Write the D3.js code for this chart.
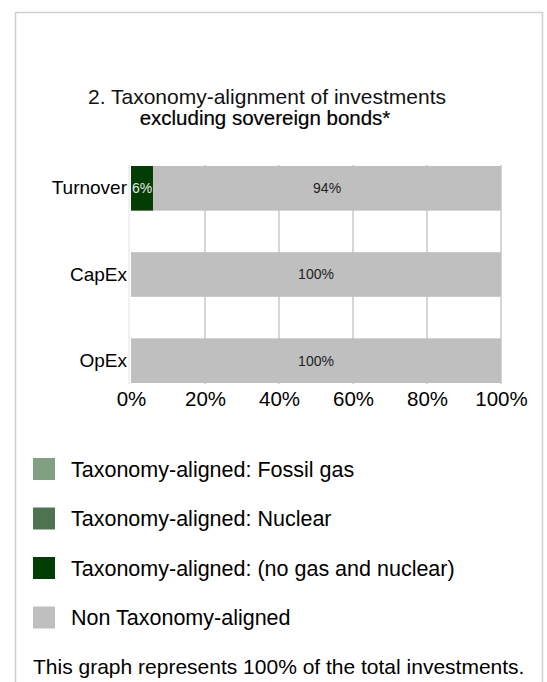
<!DOCTYPE html>
<html>
<head>
<meta charset="utf-8">
<script src="https://cdn.jsdelivr.net/npm/d3@7"></script>
<style>
  html, body { margin: 0; padding: 0; background: #fff; }
  svg { display: block; font-family: "Liberation Sans", Arial, sans-serif; }
</style>
</head>
<body>
<svg id="chart" width="547" height="682"></svg>
<script>
// Rows of the stacked bar chart, top to bottom
const categories = ["Turnover", "CapEx", "OpEx"];

// Share (%) of each category per series
const fossilGas   = [0, 0, 0];
const nuclear     = [0, 0, 0];
const alignedOnly = [6, 0, 0];
const nonAligned  = [94, 100, 100];

const seriesNames = [
  "Taxonomy-aligned: Fossil gas",
  "Taxonomy-aligned: Nuclear",
  "Taxonomy-aligned: (no gas and nuclear)",
  "Non Taxonomy-aligned"
];
const seriesColors = ["#819f81", "#4e7350", "#023d03", "#bfbfbf"];
const labelColors  = ["#f0f0f0", "#f0f0f0", "#e8e8e8", "#222222"];

const tickValues = [0, 20, 40, 60, 80, 100];

const titleLines = [
  "2. Taxonomy-alignment of investments",
  "excluding sovereign bonds*"
];
const footnote = "This graph represents 100% of the total investments.";

const svg = d3.select("#chart");

// Panel frame
svg.append("path")
  .attr("d", "M15.5,682 V12.5 H542.5 V682")
  .attr("fill", "none")
  .attr("stroke", "#cfcfcf")
  .attr("stroke-width", 1.5);

// Title
svg.append("text")
  .attr("x", 267).attr("y", 104)
  .attr("text-anchor", "middle")
  .attr("font-size", 21)
  .attr("fill", "#111")
  .text(titleLines[0]);
svg.append("text")
  .attr("x", 265).attr("y", 125)
  .attr("text-anchor", "middle")
  .attr("font-size", 20.5)
  .attr("fill", "#000")
  .attr("stroke", "#000").attr("stroke-width", 0.2)
  .text(titleLines[1]);

// Plot scales
const x = d3.scaleLinear().domain([0, 100]).range([131, 501]);
const y = d3.scaleBand().domain(categories).range([166, 383]).paddingInner(0.482).paddingOuter(0);

// Stack the series
const rows = categories.map((c, i) => ({
  cat: c, s0: fossilGas[i], s1: nuclear[i], s2: alignedOnly[i], s3: nonAligned[i]
}));
const stacked = d3.stack().keys(["s0", "s1", "s2", "s3"])(rows);

// Vertical gridlines
const plotTop = y.range()[0], plotBottom = y.range()[1];
svg.append("g")
  .selectAll("line")
  .data(tickValues)
  .join("line")
  .attr("x1", d => x(d) + (d === 0 ? -2 : 0))
  .attr("x2", d => x(d) + (d === 0 ? -2 : 0))
  .attr("y1", plotTop - 1)
  .attr("y2", plotBottom + 1)
  .attr("stroke", d => d === 0 ? "#ececec" : "#c8c8c8")
  .attr("stroke-width", 1.5);

// Bars
const layers = svg.append("g")
  .selectAll("g")
  .data(stacked)
  .join("g")
  .attr("fill", (d, i) => seriesColors[i]);

layers.selectAll("rect")
  .data(d => d.filter(p => p[1] - p[0] > 0))
  .join("rect")
  .attr("x", p => x(p[0]))
  .attr("y", p => y(p.data.cat))
  .attr("width", p => x(p[1]) - x(p[0]))
  .attr("height", y.bandwidth());

// Value labels inside segments
stacked.forEach((layer, li) => {
  svg.append("g")
    .selectAll("text")
    .data(layer.filter(p => p[1] - p[0] > 0))
    .join("text")
    .attr("x", p => (x(p[0]) + x(p[1])) / 2)
    .attr("y", p => y(p.data.cat) + y.bandwidth() / 2)
    .attr("dy", "0.35em")
    .attr("text-anchor", "middle")
    .attr("font-size", 14)
    .attr("fill", labelColors[li])
    .text(p => d3.format(".0f")(p[1] - p[0]) + "%");
});

// Category axis (labels only)
const yAxis = svg.append("g")
  .attr("transform", `translate(${x(0) - 4},0)`)
  .call(d3.axisLeft(y).tickSize(0).tickPadding(0));
yAxis.select(".domain").remove();
yAxis.selectAll("text")
  .attr("font-size", 19)
  .attr("fill", "#000")
  .attr("font-family", "Liberation Sans, Arial, sans-serif");

// Percentage axis
const xAxis = svg.append("g")
  .attr("transform", `translate(0,${plotBottom})`)
  .call(d3.axisBottom(x).tickValues(tickValues).tickFormat(d => d + "%").tickSize(0).tickPadding(8));
xAxis.select(".domain").remove();
xAxis.selectAll("text")
  .attr("font-size", 20.5)
  .attr("fill", "#000")
  .attr("font-family", "Liberation Sans, Arial, sans-serif");

// Legend
const legend = svg.append("g")
  .selectAll("g")
  .data(seriesNames)
  .join("g")
  .attr("transform", (d, i) => `translate(33,${469 + i * 49.5})`);
legend.append("rect")
  .attr("x", 0).attr("y", -11)
  .attr("width", 22).attr("height", 22)
  .attr("fill", (d, i) => seriesColors[i]);
legend.append("text")
  .attr("x", 38).attr("y", 0)
  .attr("dy", "0.35em")
  .attr("font-size", 21.5)
  .attr("fill", "#000")
  .text(d => d);

// Footnote
svg.append("text")
  .attr("x", 33).attr("y", 667)
  .attr("dy", "0.35em")
  .attr("font-size", 21)
  .attr("fill", "#000")
  .text(footnote);
</script>
</body>
</html>
